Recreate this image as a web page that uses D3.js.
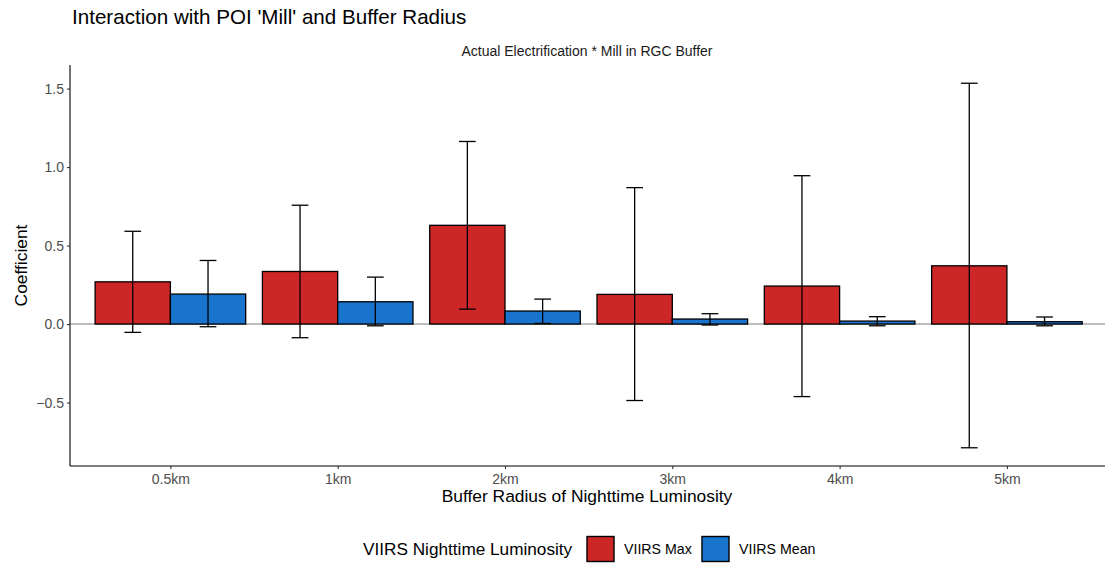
<!DOCTYPE html>
<html>
<head>
<meta charset="utf-8">
<script src="https://cdn.jsdelivr.net/npm/d3@7"></script>
<style>
  body { margin: 0; background: #fff; overflow: hidden; }
  svg { font-family: "Liberation Sans", Arial, sans-serif; }
</style>
</head>
<body>
<div id="chart"></div>
<script>
// data
var radii = ["0.5km", "1km", "2km", "3km", "4km", "5km"];
var seriesNames = ["VIIRS Max", "VIIRS Mean"];
var seriesColors = ["#CD2626", "#1874CD"];
var maxCoef = [0.269, 0.335, 0.629, 0.189, 0.242, 0.371];
var maxLow  = [-0.053, -0.087, 0.095, -0.487, -0.462, -0.788];
var maxHigh = [0.591, 0.757, 1.163, 0.869, 0.945, 1.534];
var meanCoef = [0.191, 0.142, 0.083, 0.032, 0.019, 0.015];
var meanLow  = [-0.017, -0.011, 0.004, -0.006, -0.011, -0.011];
var meanHigh = [0.405, 0.299, 0.159, 0.066, 0.047, 0.045];
var yTicks = [-0.5, 0.0, 0.5, 1.0, 1.5];

var rows = [];
radii.forEach(function(r, i) {
    rows.push({radius: r, series: seriesNames[0], coef: maxCoef[i], lo: maxLow[i], hi: maxHigh[i]});
    rows.push({radius: r, series: seriesNames[1], coef: meanCoef[i], lo: meanLow[i], hi: meanHigh[i]});
});

var W = 1105, H = 566;
// panel runs slightly past the right edge of the picture in the original
var margin = {top: 65, right: -2.3, bottom: 100, left: 70};
var width = W - margin.left - margin.right,
    height = H - margin.top - margin.bottom;

var svg = d3.select("#chart").append("svg")
    .attr("width", W)
    .attr("height", H);

// Title + strip
svg.append("text")
    .attr("x", 72).attr("y", 24)
    .style("font-size", "20.6px").style("fill", "#000")
    .text("Interaction with POI 'Mill' and Buffer Radius");

svg.append("text")
    .attr("x", 587).attr("y", 56)
    .attr("text-anchor", "middle")
    .style("font-size", "14px").style("fill", "#1A1A1A")
    .text("Actual Electrification * Mill in RGC Buffer");

var g = svg.append("g")
    .attr("transform", "translate(" + margin.left + "," + margin.top + ")");

// Scales (ggplot-like expansion)
var lo = d3.min(rows, function(d) { return d.lo; }),
    hi = d3.max(rows, function(d) { return d.hi; });
var pad = (hi - lo) * 0.05;
var yScale = d3.scaleLinear().domain([lo - pad, hi + pad]).range([height, 0]);

// discrete x: 6 slots plus 0.6 expansion on each side
var step = width / 6.2;
var xScale = d3.scalePoint().domain(radii).range([0.6 * step, 5.6 * step]);
var barW = step * 0.45;
function xBar(d) { return xScale(d.radius) + (d.series === seriesNames[0] ? -barW : 0); }
var capW = step * 0.1;

// zero line
g.append("line")
    .attr("x1", 0).attr("x2", width)
    .attr("y1", yScale(0)).attr("y2", yScale(0))
    .style("stroke", "#7F7F7F").style("stroke-width", 1.1);

// bars
g.selectAll("rect.bar").data(rows).enter().append("rect")
    .attr("class", "bar")
    .attr("x", xBar)
    .attr("width", barW)
    .attr("y", function(d) { return yScale(Math.max(0, d.coef)); })
    .attr("height", function(d) { return Math.abs(yScale(d.coef) - yScale(0)); })
    .style("fill", function(d) { return seriesColors[seriesNames.indexOf(d.series)]; })
    .style("stroke", "#000").style("stroke-width", 1.3);

// error bars
var eb = g.selectAll("g.err").data(rows).enter().append("g").attr("class", "err");
function ebX(d) { return xBar(d) + barW / 2; }
eb.append("line")
    .attr("x1", ebX).attr("x2", ebX)
    .attr("y1", function(d) { return yScale(d.lo); })
    .attr("y2", function(d) { return yScale(d.hi); });
eb.append("line")
    .attr("x1", function(d) { return ebX(d) - capW / 2; })
    .attr("x2", function(d) { return ebX(d) + capW / 2; })
    .attr("y1", function(d) { return yScale(d.hi); })
    .attr("y2", function(d) { return yScale(d.hi); });
eb.append("line")
    .attr("x1", function(d) { return ebX(d) - capW / 2; })
    .attr("x2", function(d) { return ebX(d) + capW / 2; })
    .attr("y1", function(d) { return yScale(d.lo); })
    .attr("y2", function(d) { return yScale(d.lo); });
eb.selectAll("line").style("stroke", "#000").style("stroke-width", 1.3);

// Axes
var yAxis = d3.axisLeft(yScale).tickValues(yTicks).tickSize(3).tickPadding(3)
    .tickFormat(function(v) { return v < 0 ? "\u2212" + d3.format(".1f")(-v) : d3.format(".1f")(v); });
var yAxisG = g.append("g").call(yAxis);
var xAxis = d3.axisBottom(xScale).tickSize(3).tickPadding(5);
var xAxisG = g.append("g").attr("transform", "translate(0," + height + ")").call(xAxis);

[yAxisG, xAxisG].forEach(function(a) {
    a.attr("font-family", null).attr("font-size", null);
    a.select(".domain").style("stroke", "#000").style("stroke-width", 1.1);
    a.selectAll(".tick line").style("stroke", "#333").style("stroke-width", 1.1);
    a.selectAll(".tick text").style("fill", "#4D4D4D").style("font-size", "14px");
});
yAxisG.select(".domain").attr("d", "M0," + height + "V0");
xAxisG.select(".domain").attr("d", "M0,0H" + width);

// Axis titles
svg.append("text")
    .attr("transform", "translate(27," + (margin.top + height / 2) + ") rotate(-90)")
    .attr("text-anchor", "middle")
    .style("font-size", "17.4px")
    .text("Coefficient");
svg.append("text")
    .attr("x", 587).attr("y", 502)
    .attr("text-anchor", "middle")
    .style("font-size", "17.4px")
    .text("Buffer Radius of Nighttime Luminosity");

// Legend
var leg = svg.append("g");
leg.append("text")
    .attr("x", 363).attr("y", 555)
    .style("font-size", "17.2px")
    .text("VIIRS Nighttime Luminosity");
var keyX = [587, 702];
seriesNames.forEach(function(s, i) {
    leg.append("rect")
        .attr("x", keyX[i]).attr("y", 536.5)
        .attr("width", 27).attr("height", 25)
        .style("fill", seriesColors[i])
        .style("stroke", "#000").style("stroke-width", 1.4);
    leg.append("text")
        .attr("x", keyX[i] + 37).attr("y", 554)
        .style("font-size", "14.2px")
        .text(s);
});
</script>
</body>
</html>
